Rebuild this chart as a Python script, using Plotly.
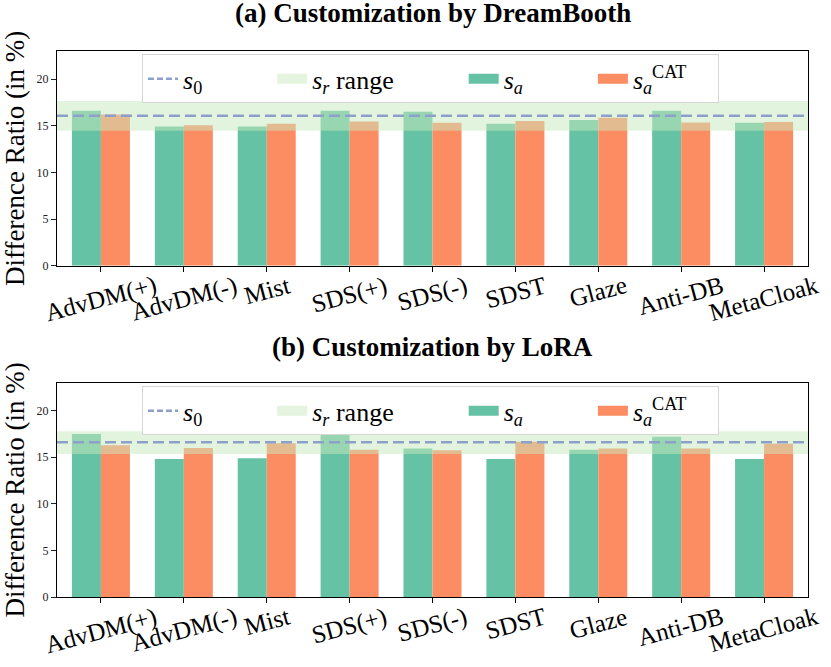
import plotly.graph_objects as go
from plotly.subplots import make_subplots

# data (difference ratio, %)
methods = ['AdvDM(+)', 'AdvDM(-)', 'Mist', 'SDS(+)', 'SDS(-)', 'SDST', 'Glaze', 'Anti-DB', 'MetaCloak']

db_sa = [16.6, 14.9, 14.9, 16.6, 16.5, 15.2, 15.6, 16.6, 15.3]
db_cat = [16.2, 15.05, 15.2, 15.45, 15.3, 15.5, 15.85, 15.35, 15.4]
db_s0 = 16.05
db_sr = [14.45, 17.65]

lora_sa = [17.5, 14.8, 14.9, 18.1, 15.95, 14.8, 15.8, 17.2, 14.8]
lora_cat = [16.3, 16.0, 16.5, 15.8, 15.75, 16.65, 15.95, 15.95, 16.45]
lora_s0 = 16.6
lora_sr = [15.35, 17.8]

titles = ['<b>(a) Customization by DreamBooth</b>', '<b>(b) Customization by LoRA</b>']
ytitle = 'Difference Ratio (in %)'
NB = '\u00a0'
legend_names = ['<i>s</i><sub>0</sub>' + NB * 10,
                '<i>s<sub>r</sub></i> range' + NB * 10,
                '<i>s<sub>a</sub></i>' + NB * 10,
                '<i>s</i><sub><i>a</i></sub><sup>CAT</sup>' + NB * 4]

GREEN = '#66c2a5'
ORANGE = '#fc8d62'
BLUE = '#8da0cb'
BAND = 'rgb(199,233,190)'
BAND_LEG = 'rgb(228,244,222)'
SERIF = 'Liberation Serif, Times New Roman, serif'

fig = make_subplots(rows=2, cols=1, vertical_spacing=0.2143)

panels = [(db_sa, db_cat, db_s0, db_sr, 'legend'),
          (lora_sa, lora_cat, lora_s0, lora_sr, 'legend2')]

for r, (sa, cat, s0, sr, leg) in enumerate(panels, start=1):
    xs = list(range(len(methods)))
    fig.add_trace(go.Bar(x=xs, y=sa, marker=dict(color=GREEN, line=dict(width=0)),
                         showlegend=False), row=r, col=1)
    fig.add_trace(go.Bar(x=xs, y=cat, marker=dict(color=ORANGE, line=dict(width=0)),
                         showlegend=False), row=r, col=1)
    # s_r 范围带 和 s0 虚线 (画在柱子上面)
    fig.add_hrect(y0=sr[0], y1=sr[1], fillcolor=BAND, opacity=0.5, line_width=0,
                  layer='above', row=r, col=1)
    fig.add_hline(y=s0, line=dict(color=BLUE, width=2.5, dash='11px,5px'),
                  layer='above', row=r, col=1)
    # legend proxies
    styles = [dict(color=BLUE, width=2.5, dash='6px,3px'),
              dict(color=BAND_LEG, width=17),
              dict(color=GREEN, width=17),
              dict(color=ORANGE, width=17)]
    for nm, st in zip(legend_names, styles):
        fig.add_trace(go.Scatter(x=[None], y=[None], mode='lines', name=nm,
                                 line=st, legend=leg), row=r, col=1)

    # x tick labels, slanted, centred on each group
    xref = 'x' if r == 1 else 'x2'
    yref = 'y' if r == 1 else 'y2'
    for i, m in enumerate(methods):
        fig.add_annotation(text=m, x=i, y=0, xref=xref, yref=yref,
                           xanchor='center', yanchor='top', yshift=-3,
                           textangle=-15, showarrow=False,
                           font=dict(family=SERIF, size=25, color='black'))

    fig.update_xaxes(range=[-0.53, len(methods) - 0.47], tickmode='array',
                     tickvals=xs, showticklabels=False,
                     ticks='outside', ticklen=5, tickcolor='black',
                     showline=True, linecolor='black', linewidth=1.3, mirror=True,
                     showgrid=False, zeroline=False, automargin=False, row=r, col=1)
    fig.update_yaxes(range=[0, 23], tickvals=[0, 5, 10, 15, 20],
                     tickfont=dict(family=SERIF, size=12, color='#222222'),
                     ticks='outside', ticklen=5, tickcolor='#222222',
                     showline=True, linecolor='black', linewidth=1.3, mirror=True,
                     showgrid=False, zeroline=False, automargin=False,
                     title=dict(text=ytitle, font=dict(family=SERIF, size=27, color='black'),
                                standoff=3), row=r, col=1)

leg_style = dict(orientation='h', x=0.1132, xanchor='left', yanchor='top',
                 bgcolor='white', bordercolor='#d6d6d6', borderwidth=1,
                 font=dict(family=SERIF, size=26, color='black'))

fig.update_layout(
    width=831, height=667,
    margin=dict(l=57, r=23, t=51, b=70),
    paper_bgcolor='white', plot_bgcolor='white',
    barmode='group', bargap=0.3, bargroupgap=0,
    font=dict(family=SERIF, color='black'),
    legend=dict(leg_style, y=0.994),
    legend2=dict(leg_style, y=0.386),
)

fig.update_layout(yaxis=dict(domain=[0.6068, 1.0]), yaxis2=dict(domain=[0.0, 0.3925]))

for t, ytop, shift in [(titles[0], 1.0, 21), (titles[1], 0.3925, 19)]:
    fig.add_annotation(text=t, xref='paper', yref='paper', x=0.5, y=ytop,
                       xanchor='center', yanchor='bottom', yshift=shift, showarrow=False,
                       font=dict(family=SERIF, size=27, color='black'))

# 去掉页面默认的 8px 边距，让图正好占满窗口；不显示工具栏
fig.write_html('out.html', config={'displayModeBar': False},
               post_script="document.body.style.margin='0';")
